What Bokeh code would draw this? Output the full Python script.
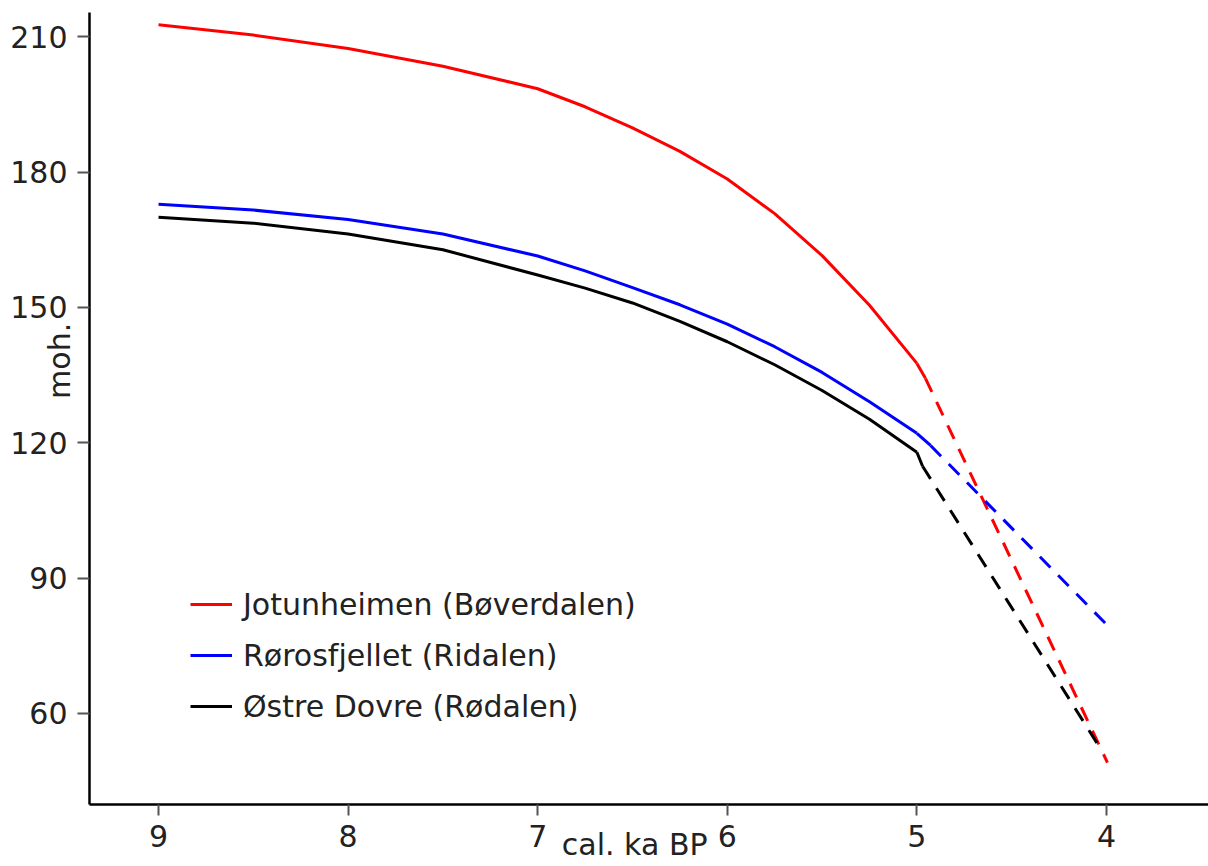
from bokeh.plotting import figure
from bokeh.models import Range1d, Legend, LegendItem, FixedTicker
from bokeh.embed import file_html
from bokeh.resources import INLINE

# ---- data ----
x_solid = [9.0, 8.5, 8.0, 7.5, 7.0, 6.75, 6.5, 6.25, 6.0, 5.75, 5.5, 5.25, 5.0]
jotun_solid = [212.7, 210.4, 207.4, 203.5, 198.5, 194.5, 189.8, 184.6, 178.5, 170.8, 161.5, 150.5, 137.6]
roros_solid = [172.9, 171.6, 169.5, 166.3, 161.4, 158.1, 154.4, 150.6, 146.3, 141.3, 135.6, 129.1, 122.1]
dovre_solid = [170.0, 168.7, 166.3, 162.8, 157.2, 154.3, 151.0, 146.9, 142.4, 137.3, 131.6, 125.2, 117.9]

jotun_tail_x = [5.0, 4.955]
jotun_tail_y = [137.6, 134.3]
roros_tail_x = [5.0, 4.928]
roros_tail_y = [122.1, 119.4]
dovre_tail_x = [5.0, 4.97]
dovre_tail_y = [117.9, 114.8]

jotun_dash_x = [4.955, 3.995]
jotun_dash_y = [134.3, 49.1]
roros_dash_x = [4.928, 3.995]
roros_dash_y = [119.4, 79.5]
dovre_dash_x = [4.97, 4.026]
dovre_dash_y = [114.8, 51.8]

labels = ["Jotunheimen (Bøverdalen)", "Rørosfjellet (Ridalen)", "Østre Dovre (Rødalen)"]
colors = ["#ff0000", "#0000ff", "#000000"]
x_ticks = [9, 8, 7, 6, 5, 4]
y_ticks = [60, 90, 120, 150, 180, 210]
x_title = "cal. ka BP"
y_title = "moh."

FONT = "DejaVu Sans"
TXT = "#222222"
NB = "\u00a0"

p = figure(width=1208, height=866, output_backend="svg", toolbar_location=None,
           x_range=Range1d(9.364, 3.462), y_range=Range1d(39.8, 215.4),
           min_border_left=89, min_border_top=12, min_border_bottom=62, min_border_right=0)
p.outline_line_color = None
p.xgrid.visible = False
p.ygrid.visible = False

for ax in (p.xaxis, p.yaxis):
    ax.axis_line_color = "black"
    ax.axis_line_width = 2.5
    ax.major_tick_line_color = "#555555"
    ax.major_tick_line_width = 2
    ax.major_tick_in = 0
    ax.minor_tick_line_color = None
    ax.major_label_text_font = FONT
    ax.major_label_text_font_size = "30px"
    ax.major_label_text_color = TXT
    ax.axis_label_text_font = FONT
    ax.axis_label_text_font_size = "30px"
    ax.axis_label_text_font_style = "normal"
    ax.axis_label_text_color = TXT

p.xaxis.ticker = FixedTicker(ticks=x_ticks)
p.yaxis.ticker = FixedTicker(ticks=y_ticks)
p.xaxis.major_tick_out = 11
p.yaxis.major_tick_out = 12
p.xaxis.major_label_standoff = 9
p.yaxis.major_label_standoff = 10

p.xaxis.axis_label = x_title + NB * 3
p.xaxis.axis_label_standoff = -23
p.yaxis.axis_label = NB * 10 + y_title
p.yaxis.axis_label_standoff = -70

renderers = []
for xs, ys, tx, ty, dx, dy, c in [
    (x_solid, jotun_solid, jotun_tail_x, jotun_tail_y, jotun_dash_x, jotun_dash_y, colors[0]),
    (x_solid, roros_solid, roros_tail_x, roros_tail_y, roros_dash_x, roros_dash_y, colors[1]),
    (x_solid, dovre_solid, dovre_tail_x, dovre_tail_y, dovre_dash_x, dovre_dash_y, colors[2]),
]:
    r = p.line(xs, ys, line_color=c, line_width=3)
    p.line(tx, ty, line_color=c, line_width=3)
    p.line(dx, dy, line_color=c, line_width=3, line_dash="15 11")
    renderers.append(r)

legend = Legend(items=[LegendItem(label=l, renderers=[r]) for l, r in zip(labels, renderers)],
                location=(101, 78), border_line_color=None, background_fill_alpha=0,
                label_text_font=FONT, label_text_font_size="30px", label_text_color=TXT,
                glyph_width=42, glyph_height=40, label_height=40, label_standoff=11,
                spacing=11, padding=10, margin=0)
p.add_layout(legend)

open("out.html", "w").write(file_html(p, INLINE))
